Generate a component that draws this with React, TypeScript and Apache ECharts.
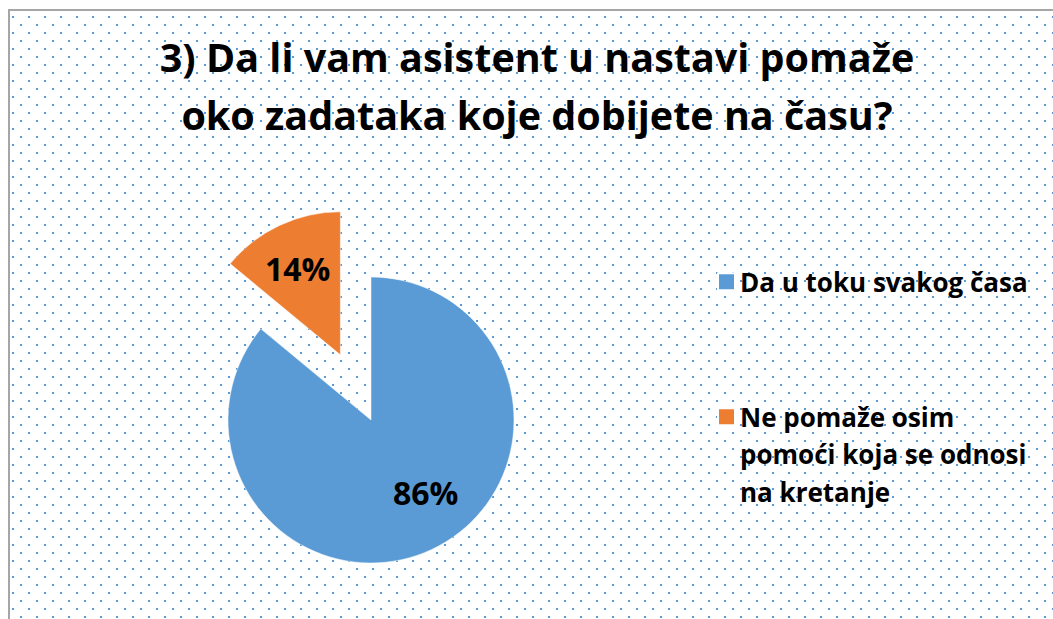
import React, { useEffect, useRef } from 'react';
import * as echarts from 'echarts';

const titleLines = ['3) Da li vam asistent u nastavi pomaže', 'oko zadataka koje dobijete na času?'];
const categories = ['Da u toku svakog časa', 'Ne pomaže osim pomoći koja se odnosi na kretanje'];
const values = [86, 14];

const colors = ['#5B9BD5', '#ED7D31'];
const labelShifts = [[23, 5], [-11, -19]];
const FONT = 'Open Sans';
const LEGEND_SIZE = 26;
const LEGEND_WRAP = 305;

const dotTile =
  "data:image/svg+xml;utf8,<svg xmlns='http://www.w3.org/2000/svg' width='16' height='16'><rect width='2' height='2' fill='%235B9BD5'/><rect x='8' y='8' width='2' height='2' fill='%235B9BD5'/></svg>";

function wrapWords(text: string, font: string, maxWidth: number): string[] {
  const ctx = document.createElement('canvas').getContext('2d')!;
  ctx.font = font;
  const words = text.split(' ');
  const lines: string[] = [];
  let cur = '';
  for (const w of words) {
    const test = cur ? cur + ' ' + w : w;
    if (cur && ctx.measureText(test).width > maxWidth) {
      lines.push(cur);
      cur = w;
    } else {
      cur = test;
    }
  }
  if (cur) lines.push(cur);
  return lines;
}

export default function App() {
  const ref = useRef<HTMLDivElement>(null);
  useEffect(() => {
    const chart = echarts.init(ref.current!, null, { renderer: 'svg' });
    const legendFont = `bold ${LEGEND_SIZE}px "${FONT}"`;
    chart.setOption({
      animation: false,
      backgroundColor: 'transparent',
      title: {
        text: titleLines.join('\n'),
        left: 537,
        textAlign: 'center',
        top: 28,
        padding: 0,
        textStyle: { fontFamily: FONT, fontWeight: 'bold', fontSize: 39.5, lineHeight: 58, color: '#000' },
      },
      legend: {
        orient: 'vertical',
        left: 717,
        top: 263,
        padding: 0,
        itemWidth: 17,
        itemHeight: 17,
        itemGap: 22.5,
        icon: 'rect',
        selectedMode: false,
        formatter: (name: string) => {
          const lines = wrapWords(name, legendFont, LEGEND_WRAP);
          // pad with empty lines so the marker lines up with the first text line
          const pad = new Array(lines.length - 1).fill('');
          return pad.concat(lines).join('\n');
        },
        textStyle: { fontFamily: FONT, fontWeight: 'bold', fontSize: LEGEND_SIZE, lineHeight: 37.5, color: '#000' },
        data: categories,
      },
      series: [
        {
          type: 'pie',
          center: [371, 420],
          radius: 143,
          startAngle: 90,
          clockwise: true,
          selectedMode: 'single',
          selectedOffset: 72,
          avoidLabelOverlap: false,
          emphasis: { disabled: true },
          labelLine: { show: false },
          itemStyle: { borderColor: '#fff', borderWidth: 0.5 },
          label: {
            show: true,
            position: 'inside',
            formatter: '{d}%',
            fontFamily: FONT,
            fontWeight: 'bold',
            fontSize: 32,
            color: '#000',
          },
          labelLayout: (p: any) => ({ dx: labelShifts[p.dataIndex][0], dy: labelShifts[p.dataIndex][1] }),
          data: categories.map((name, i) => ({
            name,
            value: values[i],
            selected: i === 1,
            itemStyle: { color: colors[i] },
            select: { itemStyle: { color: colors[i] } },
          })),
        },
      ],
    });
    return () => chart.dispose();
  }, []);
  return (
    <div style={{ position: 'absolute', left: 0, top: 0, width: 1053, height: 619, background: '#fff', overflow: 'hidden' }}>
      <div
        style={{
          position: 'absolute',
          left: 8,
          top: 9,
          width: 1045,
          height: 610,
          boxSizing: 'border-box',
          borderTop: '2px solid #a6a6a6',
          borderLeft: '2px solid #a6a6a6',
          backgroundImage: `url("${dotTile}")`,
          backgroundPosition: '2px 5px',
        }}
      />
      <div ref={ref} style={{ position: 'absolute', left: 0, top: 0, width: 1053, height: 619 }} />
    </div>
  );
}
